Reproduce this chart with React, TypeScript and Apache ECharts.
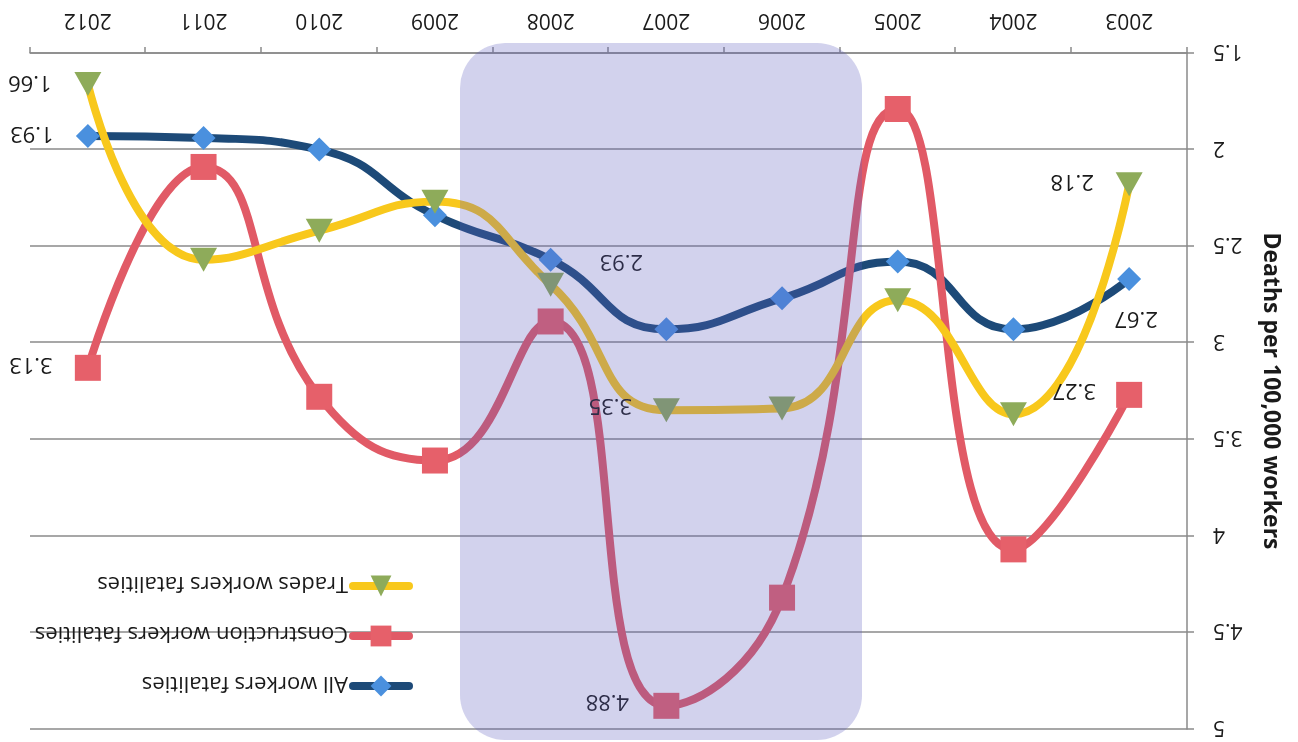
import React, { useEffect, useRef } from "react";
import * as echarts from "echarts";

const years = ["2003", "2004", "2005", "2006", "2007", "2008", "2009", "2010", "2011", "2012"];
const allWorkers = [2.67, 2.93, 2.58, 2.77, 2.93, 2.57, 2.34, 2.0, 1.94, 1.93];
const construction = [3.27, 4.07, 1.79, 4.32, 4.88, 2.89, 3.61, 3.28, 2.09, 3.13];
const trades = [2.18, 3.37, 2.78, 3.34, 3.35, 2.7, 2.27, 2.42, 2.57, 1.66];
const seriesNames = ["All workers fatalities", "Construction workers fatalities", "Trades workers fatalities"];
const yMin = 1.5;
const yMax = 5;
const yStep = 0.5;

// label placement (style): index -> [dx, dy] from the point
const allLabelOffsets: Record<number, number[]> = { 0: [-7, -42], 4: [45, 65], 9: [56, 0] };
const conLabelOffsets: Record<number, number[]> = { 0: [55, 2], 4: [59, 2], 9: [57, 1] };
const trLabelOffsets: Record<number, number[]> = { 0: [57, 0], 4: [56, 2], 9: [58, -1] };

const FONT = "'Open Sans', 'Noto Sans', sans-serif";

function withLabels(values: number[], offsets: Record<number, number[]>) {
  return values.map((v, i) =>
    offsets[i]
      ? {
          value: v,
          label: {
            show: true,
            position: "inside",
            offset: offsets[i],
            formatter: v.toFixed(2),
            color: "#1a1a1a",
            fontSize: 22,
            fontFamily: FONT,
          },
        }
      : v
  );
}

export default function App() {
  const ref = useRef<HTMLDivElement>(null);
  useEffect(() => {
    if (!ref.current) return;
    const chart = echarts.init(ref.current, null, { renderer: "svg" });
    chart.setOption({
      animation: false,
      backgroundColor: "#ffffff",
      textStyle: { fontFamily: FONT },
      grid: { left: 111, right: 30, top: 13, bottom: 53, containLabel: false },
      legend: {
        orient: "vertical",
        left: 880,
        top: 39,
        itemWidth: 56,
        itemHeight: 26,
        itemGap: 26,
        data: seriesNames,
        lineStyle: { width: 8, cap: "round" },
        textStyle: { fontSize: 22, lineHeight: 24, color: "#1a1a1a", fontFamily: FONT },
      },
      xAxis: {
        type: "category",
        data: years,
        boundaryGap: true,
        axisLine: { lineStyle: { color: "#8a8a8a", width: 1.5 } },
        axisTick: { show: true, length: 6, lineStyle: { color: "#8a8a8a", width: 1.5 } },
        axisLabel: { fontSize: 21, color: "#1a1a1a", margin: 20, fontFamily: FONT },
        splitLine: { show: false },
      },
      yAxis: {
        type: "value",
        min: yMin,
        max: yMax,
        interval: yStep,
        name: "Deaths per 100,000 workers",
        nameLocation: "middle",
        nameRotate: 90,
        nameGap: 75,
        nameTextStyle: { fontSize: 23, fontWeight: "bold", color: "#1a1a1a", fontFamily: FONT },
        axisLine: { show: true, lineStyle: { color: "#8a8a8a", width: 1.5 } },
        axisTick: { show: true, length: 7, lineStyle: { color: "#8a8a8a", width: 1.5 } },
        axisLabel: { fontSize: 21, color: "#1a1a1a", margin: 26, fontFamily: FONT },
        splitLine: { show: true, lineStyle: { color: "#8a8a8a", width: 1.5 } },
      },
      series: [
        {
          name: seriesNames[0],
          type: "line",
          smooth: 0.5,
          data: withLabels(allWorkers, allLabelOffsets),
          symbol: "diamond",
          symbolSize: 24,
          lineStyle: { color: "#1d4a78", width: 8, cap: "round" },
          itemStyle: { color: "#4a90de" },
        },
        {
          name: seriesNames[1],
          type: "line",
          smooth: 0.5,
          data: withLabels(construction, conLabelOffsets),
          symbol: "rect",
          symbolSize: 26,
          lineStyle: { color: "#e15a66", width: 8, cap: "round" },
          itemStyle: { color: "#e6606a" },
        },
        {
          name: seriesNames[2],
          type: "line",
          smooth: 0.5,
          data: withLabels(trades, trLabelOffsets),
          symbol: "triangle",
          symbolSize: [27, 24],
          lineStyle: { color: "#f8c81c", width: 8, cap: "round" },
          itemStyle: { color: "#8eab5a" },
        },
      ],
      graphic: [
        {
          type: "rect",
          z: 100,
          silent: true,
          shape: { x: 436, y: 2, width: 402, height: 697, r: 45 },
          style: { fill: "rgba(95,95,190,0.28)" },
        },
      ],
    });
    return () => chart.dispose();
  }, []);
  return (
    <div
      ref={ref}
      style={{
        position: "fixed",
        left: 0,
        top: 0,
        width: 1298,
        height: 742,
        transform: "rotate(180deg)",
      }}
    />
  );
}
